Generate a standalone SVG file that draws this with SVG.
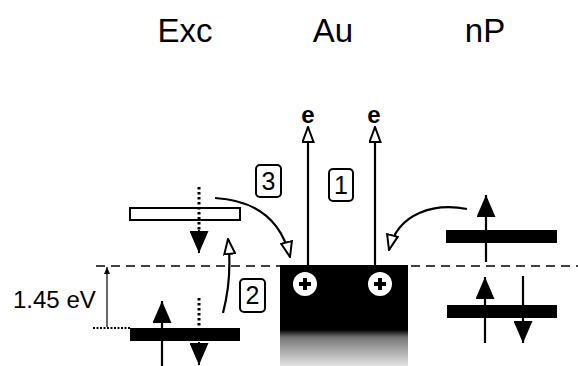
<svg xmlns="http://www.w3.org/2000/svg" width="578" height="366" viewBox="0 0 578 366">
<style>
.t{font-family:"Liberation Sans",Arial,sans-serif;fill:#000}
.ttl{font-size:33px}
.ln{stroke:#000;stroke-width:2.2;fill:none}
.dot{stroke:#000;stroke-width:3;fill:none;stroke-dasharray:2.5 2.5}
.box{fill:#fff;stroke:#000;stroke-width:2}
.bar{fill:#000}
.num{font-size:25px}
</style>
<defs>
<marker id="hollow" viewBox="0 0 17 13" refX="16" refY="6.5" markerWidth="17" markerHeight="13" markerUnits="userSpaceOnUse" orient="auto-start-reverse">
<path d="M16 6.5 L1 1 L1 12 Z" fill="#fff" stroke="#000" stroke-width="2"/>
</marker>
<marker id="solid" viewBox="0 0 22 19" refX="22" refY="9.5" markerWidth="22" markerHeight="19" markerUnits="userSpaceOnUse" orient="auto-start-reverse">
<path d="M22 9.5 L0 0 L0 19 Z" fill="#000"/>
</marker>
<marker id="small" viewBox="0 0 7 6" refX="7" refY="3" markerWidth="7" markerHeight="6" markerUnits="userSpaceOnUse" orient="auto-start-reverse">
<path d="M7 3 L0 0 L0 6 Z" fill="#000"/>
</marker>
<linearGradient id="au" x1="0" y1="0" x2="0" y2="1">
<stop offset="0" stop-color="#000"/>
<stop offset="0.64" stop-color="#000"/>
<stop offset="0.72" stop-color="#777"/>
<stop offset="1" stop-color="#e4e4e4"/>
</linearGradient>
</defs>

<g id="titles">
<text class="t ttl" x="185" y="42" text-anchor="middle">Exc</text>
<text class="t ttl" x="333" y="42" text-anchor="middle">Au</text>
<text class="t ttl" x="485" y="42" text-anchor="middle">nP</text>
</g>

<g id="fermi-level">
<line x1="96" y1="266" x2="578" y2="266" stroke="#000" stroke-width="1.6" stroke-dasharray="9 6"/>
</g>

<g id="au-node">
<rect x="280" y="265" width="128" height="101" fill="url(#au)"/>
<g>
<circle cx="305" cy="284" r="12" fill="#fff"/>
<path d="M299 284 H311 M305 278 V290" stroke="#000" stroke-width="4"/>
</g>
<g>
<circle cx="380" cy="284" r="12" fill="#fff"/>
<path d="M374 284 H386 M380 278 V290" stroke="#000" stroke-width="4"/>
</g>
<text class="t" x="308" y="123" font-size="24" font-weight="bold" text-anchor="middle">e</text>
<text class="t" x="374" y="123" font-size="24" font-weight="bold" text-anchor="middle">e</text>
</g>

<g id="exc-node">
<rect x="130" y="208" width="110" height="12" fill="#fff" stroke="#000" stroke-width="2"/>
<rect class="bar" x="130" y="328" width="110" height="13"/>
</g>

<g id="np-node">
<rect class="bar" x="446" y="230" width="111" height="13"/>
<rect class="bar" x="447" y="305" width="110" height="13"/>
</g>

<g id="energy-gap">
<line x1="107" y1="267" x2="107" y2="327" stroke="#000" stroke-width="1.2" marker-start="url(#small)"/>
<line x1="93" y1="328" x2="130" y2="328" stroke="#000" stroke-width="2" stroke-dasharray="2 1.5"/>
<text class="t" x="13" y="308" font-size="24">1.45 eV</text>
</g>

<g id="connectors">
<!-- Au photoemission -->
<line class="ln" x1="308" y1="266" x2="308" y2="127" marker-end="url(#hollow)"/>
<line class="ln" x1="375" y1="266" x2="375" y2="127" marker-end="url(#hollow)"/>
<!-- process 3 -->
<path class="ln" d="M215 198 C250 200 280 215 290 257" marker-end="url(#hollow)"/>
<!-- process 2 -->
<path class="ln" d="M223 313 C229 290 231 265 228 239" marker-end="url(#hollow)"/>
<!-- nP to Au -->
<path class="ln" d="M467 209 C435 203 398 212 389 250" marker-end="url(#hollow)"/>
<!-- Exc spins -->
<line class="dot" x1="199" y1="187" x2="199" y2="234"/>
<line x1="199" y1="230" x2="199" y2="253" stroke="#000" stroke-width="2" marker-end="url(#solid)"/>
<line class="ln" x1="162" y1="366" x2="162" y2="301" stroke-width="3" marker-end="url(#solid)"/>
<line class="dot" x1="199" y1="298" x2="199" y2="346"/>
<line x1="199" y1="342" x2="199" y2="365" stroke="#000" stroke-width="2" marker-end="url(#solid)"/>
<!-- nP spins -->
<line class="ln" x1="486" y1="262" x2="486" y2="195" stroke-width="3" marker-end="url(#solid)"/>
<line class="ln" x1="485" y1="343" x2="485" y2="277" stroke-width="3" marker-end="url(#solid)"/>
<line class="ln" x1="523" y1="276" x2="523" y2="343" stroke-width="3" marker-end="url(#solid)"/>
</g>

<g id="labels">
<g><rect class="box" x="256" y="165" width="25" height="32" rx="4"/><text class="t num" x="268.5" y="190" text-anchor="middle">3</text></g>
<g><rect class="box" x="329" y="169" width="24" height="32" rx="4"/><text class="t num" x="341" y="194" text-anchor="middle">1</text></g>
<g><rect class="box" x="240" y="279" width="25" height="33" rx="4"/><text class="t num" x="252.5" y="304" text-anchor="middle">2</text></g>
</g>
</svg>
